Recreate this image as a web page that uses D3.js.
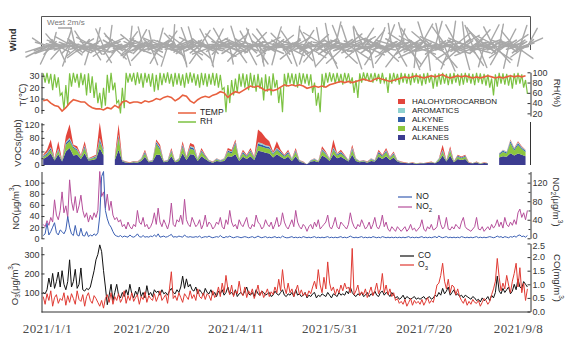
<!DOCTYPE html>
<html><head><meta charset="utf-8">
<script src="https://cdn.jsdelivr.net/npm/d3@7"></script>
<style>body{margin:0;background:#fff}svg{display:block}</style>
</head><body><svg id="c" width="582" height="358"></svg>
<script>
// ---------- DATA ----------
const tickLabels = ["2021/1/1","2021/2/20","2021/4/11","2021/5/31","2021/7/20","2021/9/8"];
// daily series start 2020-12-30; two-day series start 2020-12-30, step 2 days
// wind vectors (m/s): morning readings
const windU = [
-2.5,-1.8,-3.0,-1.2,-2.2,0.5,-2.8,-1.5,1.0,-2.0,
-1.6,-2.4,0.8,-3.2,-1.0,1.5,-2.6,-0.6,2.0,-1.8,
1.8,-2.2,-1.4,2.4,-3.0,-0.8,1.2,-2.5,0.6,-1.9,
-2.8,1.4,-1.1,2.6,-2.0,0.4,-3.1,1.9,-1.5,2.2,
-1.7,2.8,-2.4,0.9,1.6,-2.9,0.3,-1.2,2.5,-2.1,
1.3,-2.6,2.9,-0.7,-1.9,2.2,-2.7,1.0,-0.5,2.4,
-2.3,0.7,-1.4,2.7,-2.9,1.6,-0.9,2.0,-2.5,0.2,
2.6,-1.8,1.1,-2.7,0.6,-2.2,2.3,-1.0,1.7,-3.0,
-0.8,2.1,-2.6,1.5,-1.7,2.8,-2.2,0.9,-1.3,2.4,
-2.9,1.2,-0.6,2.5,-2.1,1.8,-1.5,2.9,-2.7,0.5,
2.2,-2.4,1.6,-0.9,2.7,-1.9,0.8,-2.8,1.4,-1.2,
-2.5,2.0,-1.1,1.7,-2.9,0.6,2.6,-1.6,-0.4,2.3,
-1.8,2.9,-2.3,0.9,-0.7,2.1,-2.6,1.3,-1.9,2.6,
-2.7,1.0,-1.5,2.4,-2.2,0.3,1.9,-2.8,1.5,-0.8,
2.7,-1.3,0.7,-2.5,2.0,-1.8,2.5,-0.5,-2.3,1.8,
-3.2,1.4,-0.6,3.1,-2.4,0.8,-3.4,2.6,-1.2,3.3,
-2.6,2.2,-1.0,2.9,-3.1,1.1,-0.4,2.5,-2.0,1.7,
-1.4,2.7,-2.8,0.6,1.9,-2.3,3.0,-1.7,0.9,-2.5,
2.3,-3.0,1.2,-1.8,2.8,-0.5,-2.6,1.6,-3.1,0.8,
-2.2,3.2,-0.9,2.0,-2.9,1.3,-1.6,3.0,-0.3,-2.7,
1.8,-3.3,2.9,-1.1,0.4,-2.5,3.4,-1.9,1.0,-3.0,
2.6,-0.7,-3.2,1.5,-2.0,3.1,-1.3,0.5,2.4,-2.8,
-1.7,2.8,-2.6,0.9,-0.4,3.3,-2.9,1.8,-1.1,2.2,
-3.1,1.2,-1.9,2.7,-0.8,-2.4,1.6,-2.8,2.9,-1.4,
2.1,-2.7,0.6,-1.5,3.0,-2.2,1.3,-0.7,2.5,-3.0,
-1.8,2.4,-2.5,1.0,-0.6,2.7,-2.1,1.4];
const windV = [
-0.8,1.2,-1.5,-2.5,0.6,2.0,-1.0,1.8,-2.2,0.4,
-1.8,0.9,2.4,-0.5,-2.8,-1.2,1.4,2.6,-0.9,-1.4,
1.1,-1.6,2.2,-0.7,0.5,-2.6,-1.9,1.3,2.7,-0.6,
0.7,-2.3,2.5,1.2,-1.4,3.0,-0.4,-1.8,1.9,-0.9,
-2.2,0.6,1.5,-2.7,2.1,-0.8,2.9,-1.6,-1.0,1.7,
2.4,-1.3,0.4,2.8,-2.0,-1.5,1.1,-2.6,2.3,0.8,
-0.6,2.6,-2.4,-0.9,1.2,2.2,-2.8,-1.3,0.9,3.1,
1.0,1.9,-2.5,0.3,-2.9,1.6,-1.2,2.7,-1.9,-0.5,
2.8,-1.7,1.3,2.3,-2.4,-0.6,0.8,-2.9,2.5,1.2,
-1.1,2.5,-2.7,-1.4,1.8,0.6,2.6,-0.8,0.3,-2.5,
1.7,-0.4,-2.3,2.9,0.2,-2.1,2.4,1.1,-2.6,2.2,
-1.5,2.0,2.6,-2.5,0.9,-2.8,1.3,1.8,-2.2,-1.0,
2.5,0.4,-1.4,2.8,-2.6,1.6,0.7,-2.4,1.9,-1.3,
-0.3,-2.8,2.2,1.3,-1.8,2.9,-2.0,0.8,2.3,-2.5,
-1.6,2.4,-2.9,0.5,1.7,-2.2,0.9,2.7,-1.1,-2.4,
2.0,-3.1,3.3,-0.8,-2.7,3.5,0.6,-2.4,3.0,1.2,
-2.4,1.8,3.0,-1.9,0.9,-3.2,2.8,1.4,-1.6,2.6,
2.9,-1.2,-0.7,-3.0,2.3,1.8,-0.5,-2.6,2.7,0.4,
-2.1,1.0,3.1,-2.4,0.6,3.3,-1.5,-2.8,0.9,2.5,
-2.9,0.7,3.4,-2.5,1.9,-3.3,2.6,-1.1,-3.0,1.5,
3.2,-1.6,-2.6,3.5,-3.4,2.1,0.8,-2.9,3.6,-0.7,
-3.0,3.3,1.4,-3.5,2.8,-1.0,-3.2,3.6,2.0,-1.8,
3.1,1.6,-2.2,-3.3,3.5,-0.9,1.2,-2.7,3.0,2.4,
-1.3,-3.0,2.7,1.0,-2.9,2.2,3.1,-0.6,-1.9,2.8,
-2.3,1.4,3.2,-2.6,0.5,-1.6,2.5,-3.1,1.7,0.9,
2.2,-1.7,0.8,3.0,-2.8,1.2,-1.5,2.6];
// wind vectors (m/s): afternoon readings
const windUpm = [
-1.4,1.2,-1.7,0.9,-1.1,1.6,-1.3,-0.8,1.5,-1.6,
1.1,-1.5,1.7,-1.0,-1.6,1.3,-0.9,1.4,-1.2,1.8,
-1.7,0.8,-1.3,1.5,-1.0,1.2,-1.8,1.0,-1.4,1.6,
1.3,-1.6,1.1,-1.2,1.7,-0.9,1.4,-1.5,1.0,-1.3,
-1.1,1.7,-1.4,1.2,-1.8,0.9,-1.2,1.6,-1.5,1.1,
1.5,-1.0,1.3,-1.7,1.0,-1.4,1.8,-1.1,1.2,-1.6,
-1.3,1.4,-0.9,1.7,-1.5,1.1,-1.6,1.3,-1.0,1.5,
1.2,-1.8,1.6,-1.1,1.4,-1.3,0.9,-1.7,1.5,-1.0,
-1.6,1.0,-1.2,1.8,-1.4,1.3,-1.1,1.5,-1.7,0.9,
1.4,-1.3,1.7,-1.0,1.2,-1.6,1.1,-1.4,1.8,-1.2,
-1.5,1.6,-1.0,1.3,-1.8,1.1,-1.2,1.7,-1.4,1.0,
1.7,-1.2,1.4,-1.6,0.9,-1.3,1.5,-1.0,1.2,-1.7,
-1.0,1.5,-1.6,1.1,-1.3,1.8,-1.4,0.9,-1.7,1.3,
1.6,-1.1,1.0,-1.5,1.3,-1.8,1.2,-1.4,1.1,-1.6,
-1.2,1.3,-1.7,1.6,-1.0,1.4,-1.5,1.2,-0.9,1.7,
1.8,-1.4,1.2,-1.1,1.6,-1.7,1.0,-1.3,1.5,-1.2,
-1.7,1.1,-1.3,1.4,-1.6,1.0,-1.8,1.6,-1.1,1.3,
1.0,-1.6,1.5,-1.3,1.1,-1.2,1.7,-1.5,1.4,-0.9,
-1.4,1.7,-1.1,1.0,-1.5,1.6,-1.3,1.2,-1.8,1.4,
1.3,-1.0,1.6,-1.7,1.4,-1.1,1.2,-1.6,1.0,-1.5,
-1.6,1.2,-1.4,1.5,-1.2,1.7,-1.0,1.3,-1.5,1.1,
1.5,-1.7,1.0,-1.4,1.8,-1.2,1.3,-1.1,1.6,-1.3,
-1.1,1.4,-1.5,1.2,-1.7,1.0,-1.6,1.5,-1.3,1.8,
1.2,-1.3,1.7,-1.0,1.5,-1.6,1.1,-1.4,1.3,-1.7,
-1.3,1.6,-1.2,1.4,-1.0,1.5,-1.7,1.1,-1.6,1.2,
1.4,-1.5,1.1,-1.2,1.6,-1.3,1.0,-1.4];
const windVpm = [
-0.6,0.4,-0.9,0.7,-1.1,0.3,-0.5,1.0,-0.8,0.6,
0.8,-0.5,0.3,-1.0,0.6,-0.7,1.1,-0.4,0.9,-0.6,
-0.4,1.0,-0.7,0.5,-0.9,0.8,-0.3,-1.1,0.6,-0.8,
0.5,-0.8,1.0,-0.4,0.7,-1.1,0.3,0.9,-0.6,0.4,
-0.9,0.6,-0.3,1.1,-0.5,0.8,-1.0,0.4,0.7,-0.7,
0.7,-1.0,0.5,-0.6,0.9,0.3,-0.8,1.0,-0.4,0.6,
-0.5,0.9,-1.1,0.4,-0.7,0.6,0.8,-0.9,0.5,-0.3,
1.0,-0.4,0.6,-0.8,0.3,-1.0,0.7,-0.5,0.9,-0.6,
-0.7,0.5,-0.9,0.3,1.1,-0.6,0.8,-0.4,0.6,-1.0,
0.4,-0.7,0.9,-1.1,0.5,0.7,-0.3,0.8,-0.9,0.6,
-1.0,0.6,0.4,-0.8,0.7,-0.5,1.1,-0.6,0.3,-0.9,
0.6,-0.9,0.7,0.5,-1.0,0.8,-0.4,0.9,-0.7,0.3,
-0.3,0.8,-0.6,1.0,-0.5,-0.7,0.9,-1.1,0.4,0.6,
0.9,-0.5,1.1,-0.3,-0.8,0.6,-0.9,0.5,0.7,-0.4,
-0.8,0.3,-0.5,0.9,0.6,-1.0,0.4,0.7,-0.6,1.1,
0.5,-1.1,0.8,-0.6,0.4,0.9,-0.7,-0.3,1.0,-0.5,
-0.6,1.0,-0.4,0.7,-0.9,0.5,0.8,-0.7,0.3,-1.0,
1.1,-0.6,0.3,-0.9,0.8,-0.4,-0.6,1.0,-0.5,0.7,
-0.4,0.7,-1.0,0.6,-0.3,0.9,-0.8,0.5,1.1,-0.6,
0.8,-0.3,0.6,-1.1,0.9,-0.5,0.4,-0.8,0.7,1.0,
-0.9,0.5,-0.7,0.3,1.0,-0.6,0.9,-0.4,-1.1,0.8,
0.3,-0.8,1.0,-0.5,0.6,0.7,-1.0,0.4,-0.6,0.9,
-0.7,1.1,-0.4,0.8,-0.6,-0.9,0.5,1.0,-0.3,0.6,
0.6,-0.9,0.4,1.0,-0.7,0.3,-1.1,0.7,0.8,-0.5,
-0.5,0.8,-1.0,0.6,-0.4,0.9,0.5,-0.8,0.7,-0.6,
0.9,-0.4,0.7,-0.9,0.5,-0.7,1.0,-0.3];
// temperature (°C), every 2 days
const temp = [
8,9,6,4,3,-1,2,6,9,8,
7,7,4,2,1,1,0,2,1,4,
2,7,8,6,7,7,6,8,7,8,
10,9,11,12,11,8,10,13,12,8,
6,9,11,12,11,13,14,16,15,11,
14,16,15,17,19,21,20,21,19,17,
18,17,18,20,22,21,22,21,22,21,
19,20,21,20,21,20,22,23,24,25,
24,25,24,25,26,27,26,25,27,28,
27,26,25,26,27,28,29,28,29,30,
29,28,29,30,29,30,31,29,28,29,
30,29,30,29,28,29,28,29,30,29,
28,29,28,29,30,29,30,29,30];
// relative humidity (%), daily
const rh = [
98,80,99,78,97,65,96,70,90,55,60,28,75,35,98,72,99,80,97,70,
99,75,96,55,98,60,92,50,80,40,60,30,70,35,95,60,99,65,80,40,
45,20,70,30,99,80,98,82,99,75,100,78,98,70,99,80,97,72,98,62,
95,65,99,75,98,80,100,78,97,72,99,76,98,74,96,70,99,78,100,80,
98,74,96,70,99,75,98,72,97,76,99,74,98,70,95,66,70,22,75,40,
85,55,88,60,97,72,98,70,96,65,99,70,95,62,97,68,90,45,96,62,
92,55,98,70,85,40,70,22,97,72,99,78,98,74,97,70,99,76,98,78,
97,74,96,60,80,35,60,22,97,70,99,80,100,82,98,78,99,80,97,76,
99,82,98,78,90,60,85,50,98,80,100,84,99,82,98,80,99,83,97,78,
99,80,90,60,98,78,99,82,97,76,99,80,98,78,97,75,99,80,98,78,
96,74,98,77,99,80,95,68,97,72,98,76,99,78,97,75,98,77,99,80,
97,74,98,76,99,80,98,78,97,75,99,80,98,77,97,74,96,70,88,55,
96,72,99,78,98,76,97,74,95,68,98,76,99,78,96,70,85,58];
// VOCs (ppb), every 2 days, null = no data
const alkanes = [
18,24,35,13,32,10,40,50,28,30,
18,35,13,15,18,50,28,null,null,15,
45,10,7,6,8,7,12,24,8,10,
30,30,8,10,26,8,12,35,15,32,
30,12,26,18,10,7,12,10,12,26,
24,32,12,24,18,26,15,42,40,36,
34,22,32,24,18,24,12,26,10,7,
2,10,12,8,28,22,12,32,20,24,
18,10,30,12,8,10,7,12,10,24,
18,26,15,22,10,7,6,5,6,4,
5,5,6,7,5,12,28,10,28,8,
18,15,18,6,5,7,4,6,5,null,
null,22,26,24,35,28,34,30,26];
const alkenes = [
5,7,10,3,10,2,20,20,22,12,
6,15,3,4,5,18,10,null,null,5,
35,2,1,1,2,1,4,10,2,2,
32,15,2,2,12,2,4,18,5,16,
14,4,12,6,2,1,4,2,4,12,
10,30,4,10,6,12,5,15,14,14,
14,9,12,10,6,10,4,12,2,1,
0,2,4,2,13,9,4,12,8,10,
6,2,14,4,2,2,1,4,2,10,
6,12,5,9,2,1,1,1,1,1,
1,1,1,1,1,4,10,2,13,2,
6,5,6,1,1,1,1,1,1,null,
null,8,12,10,30,15,25,17,12];
const alkyne = [
3,4,5,2,4,1,5,6,4,4,
2,5,2,2,3,7,4,null,null,2,
6,1,1,0,1,1,2,4,1,1,
5,5,1,1,4,1,2,5,2,5,
5,2,4,3,1,1,2,1,2,4,
4,5,2,4,3,4,2,6,6,5,
5,3,4,4,3,4,2,4,1,1,
0,1,2,1,4,3,2,5,3,4,
3,1,5,2,1,1,1,2,1,4,
3,4,2,3,1,1,0,0,0,0,
0,0,0,1,0,2,4,1,4,1,
3,2,3,0,0,1,0,0,0,null,
null,3,4,3,5,4,5,4,4];
const aromatics = [
1,2,3,1,3,1,3,4,2,2,
1,3,1,1,1,5,2,null,null,1,
4,1,0,0,0,0,1,2,0,1,
2,3,0,1,2,0,1,3,1,3,
3,1,2,1,1,0,1,1,1,2,
2,2,1,2,1,2,1,4,4,3,
3,2,3,2,1,2,1,2,1,0,
0,1,1,0,3,2,1,3,2,2,
1,1,3,1,0,1,0,1,1,2,
1,2,1,2,1,0,0,0,0,0,
0,0,0,0,0,1,3,1,3,0,
1,1,1,0,0,0,0,0,0,null,
null,1,2,2,3,2,3,2,2];
const halohydrocarbon = [
3,8,22,1,21,1,17,40,4,7,
3,12,1,3,3,45,6,null,null,2,
30,1,1,1,1,1,1,5,1,1,
6,7,1,1,6,1,1,9,2,9,
8,1,6,2,1,1,1,1,1,6,
5,6,1,5,2,6,2,38,31,22,
14,4,19,5,2,5,1,6,1,1,
0,1,1,1,7,4,1,23,2,5,
2,1,8,1,1,1,1,1,1,5,
2,6,2,4,1,1,1,0,1,0,
1,0,1,1,0,1,15,1,7,1,
2,2,2,1,0,1,0,1,0,null,
null,1,1,1,2,1,3,2,1];
// NO and NO2 (μg/m3), daily
const no = [
5,8,27,6,12,20,28,10,6,15, 12,8,15,39,20,8,5,23,6,4, 18,5,4,12,3,6,4,8,5,10,
40,111,120,50,35,25,20,12,6,4, 3,5,2,4,3,2,6,3,2,4, 8,3,2,5,2,3,2,4,3,6,
3,8,2,3,4,2,3,5,7,2, 3,2,4,3,2,6,3,2,3,2, 2,3,2,4,1,2,3,2,4,2,
1,2,3,2,5,2,1,3,2,4, 2,1,2,3,2,1,2,3,2,1, 2,3,1,2,4,2,1,2,3,1,
2,1,2,3,1,2,1,4,2,1, 1,2,3,1,2,1,2,1,3,2, 1,2,1,2,3,1,2,1,2,1,
2,3,1,2,1,2,1,2,3,1, 2,1,2,4,2,1,2,1,2,3, 1,2,1,2,1,3,2,1,2,1,
3,2,1,2,1,2,1,2,1,2, 1,2,1,2,3,1,2,1,2,1, 2,3,1,2,1,2,1,2,3,1,
4,2,1,2,3,1,2,1,2,1, 2,1,3,2,1,2,1,2,1,2, 3,1,2,1,2,1,2,3,2,1,
2,4,2,3,1,3,2,1,3,2, 4,2,5,6,3,4,2,5];
const no2 = [
30,25,38,28,45,35,83,50,40,60, 100,55,70,45,126,80,60,90,55,70, 93,60,45,55,35,50,40,55,45,60,
144,90,100,65,95,60,80,50,40,45, 35,40,25,30,20,35,25,20,30,25, 60,35,30,45,25,30,20,25,35,55,
30,65,35,25,40,30,20,35,76,30, 25,40,35,50,30,84,40,30,25,45, 35,25,30,40,20,30,50,25,35,30,
20,25,35,30,45,25,20,40,30,60, 35,25,30,20,40,30,25,35,45,25, 20,30,25,50,35,30,20,25,40,30,
25,35,20,30,45,25,30,55,35,25, 20,30,40,25,60,35,25,20,30,25, 15,25,30,20,35,25,40,20,25,30,
35,50,25,20,30,45,25,20,35,30, 25,20,30,55,35,25,20,30,25,40, 30,20,25,35,20,30,45,25,20,30,
50,25,35,20,15,25,20,15,25,20, 15,20,25,15,20,30,18,22,15,20, 25,40,20,15,25,20,30,18,20,25,
50,30,20,25,45,20,18,25,20,30, 25,20,35,45,25,20,18,15,20,25, 45,20,18,25,15,20,25,18,30,22,
28,40,25,35,22,45,30,25,35,28, 40,30,55,63,45,55,40,60];
// CO (mg/m3) and O3 (μg/m3), daily
const co = [
0.7,0.65,0.8,1.23,0.9,1.4,0.85,1.1,1.45,0.9, 1.5,1.0,0.8,1.1,1.9,0.9,1.1,1.55,0.85,1.0,
1.6,0.8,0.75,0.85,0.8,0.9,1.2,1.5,1.9,2.1, 2.45,2.2,1.5,0.9,0.25,0.6,1.0,0.4,0.7,1.0,
0.6,0.5,0.7,0.55,0.8,0.6,1.0,0.65,0.5,0.75, 0.6,0.9,0.55,0.7,0.5,0.95,0.6,0.7,0.55,0.8,
0.7,0.75,0.6,0.8,0.65,0.7,0.6,0.75,0.85,0.7, 0.65,0.8,0.7,0.9,1.3,0.85,1.2,0.9,1.0,0.8,
0.75,0.9,0.65,0.8,0.7,0.6,0.85,0.7,0.65,0.8, 0.6,0.7,0.55,0.75,0.65,0.8,0.6,0.7,0.9,0.65,
0.7,0.6,0.8,0.55,0.65,0.7,0.6,0.75,0.9,0.65, 0.6,0.7,0.55,0.8,0.65,0.6,0.75,0.7,0.6,0.65,
0.7,0.55,0.6,0.75,0.65,0.6,0.7,0.8,0.6,0.55, 0.65,0.6,0.7,0.55,0.8,0.6,0.65,0.55,0.6,0.7,
0.5,0.6,0.55,0.65,0.7,0.5,0.6,0.55,0.65,0.6, 0.55,0.7,0.6,0.5,0.65,0.6,0.55,0.7,0.6,0.65,
0.6,0.75,0.65,0.9,0.7,0.6,0.55,0.65,0.6,0.7, 0.55,0.6,0.7,0.55,0.65,0.6,0.75,0.6,0.55,0.7,
0.75,0.6,0.7,0.65,0.55,0.7,0.6,0.5,0.55,0.45, 0.5,0.6,0.45,0.55,0.5,0.45,0.5,0.55,0.45,0.5,
0.45,0.5,0.55,0.45,0.5,0.55,0.45,0.5,0.6,0.55, 0.7,0.6,0.85,0.65,0.75,0.9,0.6,0.7,0.8,0.6,
0.65,0.55,0.6,0.5,0.6,0.55,0.5,0.45,0.55,0.5, 0.4,0.45,0.35,0.5,0.4,0.45,0.55,0.4,0.6,0.5,
0.7,1.3,0.75,0.65,0.85,0.7,0.8,0.9,0.65,0.75, 1.0,0.8,1.2,0.9,0.85,1.1,1.0,0.9];
const o3 = [
80,40,95,60,110,30,75,90,45,70, 60,100,35,85,50,95,70,40,110,65, 55,90,30,80,100,60,45,85,70,50,
30,60,20,70,90,50,100,40,80,60, 95,50,70,110,45,85,60,100,55,75, 90,40,80,65,105,50,85,70,60,95,
55,80,110,60,75,90,45,120,209,70, 85,60,100,75,50,95,80,65,110,70, 90,60,120,80,70,100,65,95,85,60,
110,75,90,130,80,150,100,190,120,90, 140,80,110,95,160,100,85,130,75,110, 90,120,70,100,140,85,110,75,95,120,
80,105,90,130,100,170,110,220,130,95, 150,100,120,80,110,140,90,115,85,100, 80,110,95,130,160,120,220,140,100,180,
120,260,150,110,130,90,120,100,140,110, 150,120,130,100,330,90,110,140,85,105, 90,120,75,100,130,85,110,150,95,120,
200,100,140,90,120,80,100,60,70,45, 55,40,65,30,50,70,35,60,45,55, 40,65,35,55,75,45,60,50,90,140,
150,190,253,160,120,170,100,140,130,90, 120,80,60,45,70,35,55,40,65,50, 45,60,30,50,70,60,40,55,90,120,
160,278,180,110,150,120,190,140,100,160, 200,253,130,230,100,150,60,120];

// ---------- CHART ----------
const SANS = "'Liberation Sans', Arial, 'DejaVu Sans', sans-serif";
const SERIF = "'Liberation Serif', 'Times New Roman', 'DejaVu Serif', serif";
const svg = d3.select("#c").style("font-family", SANS);
svg.append("rect").attr("width",582).attr("height",358).attr("fill","#fff");
const DAY = 86400000, T0 = Date.UTC(2020,11,30);
const dDate = i => new Date(T0 + i*DAY);
const pmDate = i => new Date(T0 + i*DAY + DAY/2);
const bDate = i => new Date(T0 + 2*i*DAY);
const tickDates = tickLabels.map(s => { const [y,m,d] = s.split("/").map(Number); return new Date(Date.UTC(y,m-1,d)); });
const x = d3.scaleUtc().domain([tickDates[0], tickDates[tickDates.length-1]]).range([47,518]);
const XL = 41.5, XR = 530.5;
const AX = "#333";

function styleAxis(g){
  g.selectAll("path,line").attr("stroke",AX).attr("stroke-width",1);
  g.selectAll("text").style("font-size","9px").style("font-family",SANS).attr("fill",AX);
}
function yAxis(scale, side, ticks, minor, fmt){
  const gen = side==="left" ? d3.axisLeft : d3.axisRight;
  const g = svg.append("g").attr("transform",`translate(${side==="left"?XL:XR},0)`);
  g.call(gen(scale).tickValues(ticks).tickSizeInner(-3).tickSizeOuter(0).tickPadding(2).tickFormat(fmt||d3.format("d")));
  styleAxis(g);
  if(minor){
    const m = svg.append("g").attr("transform",`translate(${side==="left"?XL:XR},0)`);
    m.call(gen(scale).tickValues(minor).tickSizeInner(-2).tickSizeOuter(0).tickFormat(""));
    m.select(".domain").remove();
    styleAxis(m);
  }
  return g;
}
function vLabel(xp, yp, rot, parts){
  const t = svg.append("text").attr("transform",`translate(${xp},${yp}) rotate(${rot})`)
    .attr("text-anchor","middle").attr("dominant-baseline","middle")
    .style("font-size","9.5px").attr("fill",AX);
  parts.forEach(p => {
    const s = t.append("tspan").text(p[0]);
    if(p[1]==="sup"){ s.style("font-size","6.5px").attr("baseline-shift","super"); }
    if(p[1]==="sub"){ s.style("font-size","6.5px").attr("baseline-shift","sub"); }
  });
  return t;
}

// ----- Wind panel -----
const wY0 = 46.5;
const wLen = d3.scaleLinear().domain([0,2]).range([0,14]);
svg.append("path").attr("d",`M${XL},49V16.5H${XR}V50`).attr("fill","none").attr("stroke","#555").attr("stroke-width",1);
const wg = svg.append("g").attr("stroke","#a8a8a8").attr("stroke-linecap","round");
wg.selectAll("line.pm").data(windUpm).join("line").attr("class","pm")
  .attr("x1",(u,i)=>x(pmDate(i))).attr("y1",wY0)
  .attr("x2",(u,i)=>x(pmDate(i))+wLen(u)).attr("y2",(u,i)=>wY0-wLen(windVpm[i]))
  .attr("stroke-width",1.6);
wg.selectAll("line.am").data(windU).join("line").attr("class","am")
  .attr("x1",(u,i)=>x(dDate(i))).attr("y1",wY0)
  .attr("x2",(u,i)=>x(dDate(i))+wLen(u)).attr("y2",(u,i)=>wY0-wLen(windV[i]))
  .attr("stroke-width",1.4);
svg.append("text").attr("x",47).attr("y",25).style("font-size","8px").attr("fill","#777").text("West 2m/s");
svg.append("line").attr("x1",58).attr("x2",58+wLen(2)).attr("y1",28).attr("y2",28).attr("stroke","#777").attr("stroke-width",1);
svg.append("text").attr("transform","translate(13.5,40) rotate(-90)").attr("text-anchor","middle").attr("dominant-baseline","middle")
  .style("font-size","9.5px").attr("font-weight","bold").attr("fill",AX).text("Wind");

// ----- Temperature / RH -----
const tY = d3.scaleLinear().domain([-3,33]).range([113.4,72.3]);
const rhY = d3.scaleLinear().domain([15,100]).range([115.9,72.3]);
svg.append("path").datum(rh).attr("fill","none").attr("stroke","#7cc242").attr("stroke-width",1.2)
  .attr("d", d3.line().x((v,i)=>x(dDate(i))).y(v=>rhY(v)));
svg.append("path").datum(temp).attr("fill","none").attr("stroke","#e8603e").attr("stroke-width",1.6)
  .attr("d", d3.line().x((v,i)=>x(bDate(i))).y(v=>tY(v)));
yAxis(tY,"left",[0,10,20,30]);
yAxis(rhY,"right",[20,40,60,80,100]);
vLabel(23,95,-90,[["T(℃)"]]);
vLabel(557,93,90,[["RH(%)"]]);
[["TEMP","#e8603e",113],["RH","#7cc242",122]].forEach(([n,c,yy])=>{
  svg.append("line").attr("x1",178).attr("x2",196).attr("y1",yy).attr("y2",yy).attr("stroke",c).attr("stroke-width",1.5);
  svg.append("text").attr("x",200).attr("y",yy).attr("dominant-baseline","middle").style("font-size","8.5px").attr("fill","#222").text(n);
});

// ----- VOCs -----
const vocY = d3.scaleLinear().domain([0,125]).range([165,122.6]);
const vocKeys = ["alkanes","alkenes","alkyne","aromatics","halohydrocarbon"];
const vocSeries = {alkanes, alkenes, alkyne, aromatics, halohydrocarbon};
const vocColors = {alkanes:"#3c3c90", alkenes:"#8cc63f", alkyne:"#2f5ea8", aromatics:"#8fd2d0", halohydrocarbon:"#e2453c"};
const vocRows = alkanes.map((v,i)=>{ const r={date:bDate(i)}; vocKeys.forEach(k=>r[k]=vocSeries[k][i]); return r; });
const stacked = d3.stack().keys(vocKeys).value((d,k)=>d[k]==null?0:d[k])(vocRows);
const vArea = d3.area().defined(d=>d.data.alkanes!=null).x(d=>x(d.data.date)).y0(d=>vocY(d[0])).y1(d=>vocY(d[1]));
svg.append("g").selectAll("path").data(stacked).join("path").attr("fill",d=>vocColors[d.key]).attr("d",vArea);
yAxis(vocY,"left",[0,40,80,120],[20,60,100]);
svg.append("line").attr("x1",XR).attr("x2",XR).attr("y1",122).attr("y2",165).attr("stroke",AX);
vLabel(18,143,-90,[["VOCs(ppb)"]]);
const vocLegend = [["HALOHYDROCARBON","halohydrocarbon"],["AROMATICS","aromatics"],["ALKYNE","alkyne"],["ALKENES","alkenes"],["ALKANES","alkanes"]];
vocLegend.forEach(([n,k],i)=>{
  const yy = 101.5 + i*9;
  svg.append("rect").attr("x",398).attr("y",yy-2.5).attr("width",7).attr("height",5).attr("fill",vocColors[k]);
  svg.append("text").attr("x",412).attr("y",yy).attr("dominant-baseline","middle").style("font-size","8px").attr("fill","#222").text(n);
});

// ----- NO / NO2 -----
const noY = d3.scaleLinear().domain([0,120]).range([238.3,171.5]);
const no2Y = d3.scaleLinear().domain([0,144]).range([238.3,171.5]);
svg.append("path").datum(no2).attr("fill","none").attr("stroke","#b64f9b").attr("stroke-width",1)
  .attr("d", d3.line().x((v,i)=>x(dDate(i))).y(v=>no2Y(v)));
svg.append("path").datum(no).attr("fill","none").attr("stroke","#3b5fb3").attr("stroke-width",1)
  .attr("d", d3.line().x((v,i)=>x(dDate(i))).y(v=>noY(v)));
yAxis(noY,"left",[0,20,40,60,80,100]);
const no2Ax = yAxis(no2Y,"right",[0,40,80,120],[20,60,100,140]);
no2Ax.selectAll("text").filter(d=>d===0).attr("dy","0.05em");
vLabel(16,207,-90,[["NO(μg/m"],["3","sup"],[")"]]);
vLabel(556,202,90,[["NO"],["2","sub"],["(μg/m"],["3","sup"],[")"]]);
[["NO","#3b5fb3",197,null],["NO","#b64f9b",207,"2"]].forEach(([n,c,yy,s])=>{
  svg.append("line").attr("x1",398).attr("x2",412).attr("y1",yy).attr("y2",yy).attr("stroke",c).attr("stroke-width",1.2);
  const t = svg.append("text").attr("x",416).attr("y",yy).attr("dominant-baseline","middle").style("font-size","8.5px").attr("fill","#222").text(n);
  if(s) t.append("tspan").style("font-size","6px").attr("baseline-shift","sub").text(s);
});

// ----- CO / O3 -----
const o3Y = d3.scaleLinear().domain([0,340]).range([312,246.5]);
const coY = d3.scaleLinear().domain([0,2.5]).range([311.5,243.5]);
svg.append("path").datum(co).attr("fill","none").attr("stroke","#111").attr("stroke-width",1)
  .attr("d", d3.line().x((v,i)=>x(dDate(i))).y(v=>coY(v)));
svg.append("path").datum(o3).attr("fill","none").attr("stroke","#e03a33").attr("stroke-width",1)
  .attr("d", d3.line().x((v,i)=>x(dDate(i))).y(v=>o3Y(v)));
yAxis(o3Y,"left",[100,200,300]);
const coAx = yAxis(coY,"right",[0,0.5,1,1.5,2,2.5],null,d3.format(".1f"));
coAx.selectAll("text").filter(d=>d===2.5).attr("dy","0.6em");
vLabel(15,284,-90,[["O"],["3","sub"],["(μg/m"],["3","sup"],[")"]]);
vLabel(557,278,90,[["CO(mg/m"],["3","sup"],[")"]]);
[["CO","#111",256,null],["O","#e03a33",265,"3"]].forEach(([n,c,yy,s])=>{
  svg.append("line").attr("x1",400).attr("x2",414).attr("y1",yy).attr("y2",yy).attr("stroke",c).attr("stroke-width",1.2);
  const t = svg.append("text").attr("x",418).attr("y",yy).attr("dominant-baseline","middle").style("font-size","8.5px").attr("fill","#222").text(n);
  if(s) t.append("tspan").style("font-size","6px").attr("baseline-shift","sub").text(s);
});

// ----- X axis -----
svg.append("line").attr("x1",XL).attr("x2",XR).attr("y1",312).attr("y2",312).attr("stroke",AX);
const xg = svg.append("g").attr("transform","translate(0,312)")
  .call(d3.axisBottom(x).tickValues(tickDates).tickSize(0).tickPadding(12).tickFormat((d,i)=>tickLabels[i]));
xg.select(".domain").remove();
xg.selectAll("text").style("font-size","13px").style("font-family",SERIF).attr("fill","#4a4a4a").style("letter-spacing","0.4px");
</script></body></html>
